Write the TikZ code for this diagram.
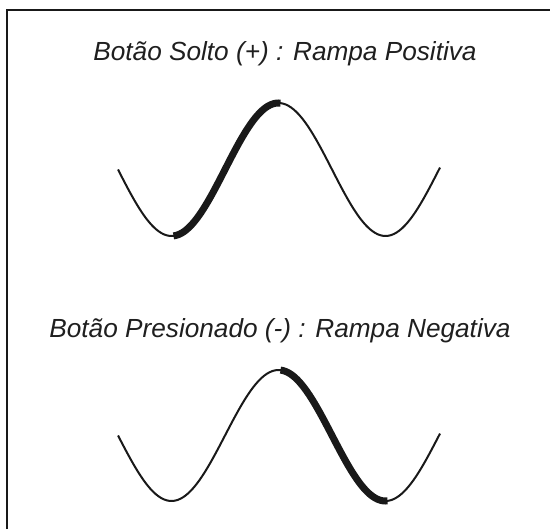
\documentclass[tikz,border=0pt]{standalone}
\usepackage{fontspec}
\setmainfont{Liberation Sans}
\usepackage{tikz}
\usetikzlibrary{positioning}
\tikzset{
  legenda/.style={font=\fontsize{13.1}{15}\selectfont\itshape,text=black!88,inner sep=0pt,anchor=center},
  onda/.style={line width=1pt,black!90,samples=120,smooth},
  rampa/.style={line width=3.5pt,black!90,samples=60,smooth,line cap=butt},
  moldura/.style={line width=1pt,black!90}
}

\begin{document}
\begin{tikzpicture}[x=0.5pt,y=0.5pt]
  \useasboundingbox (0,0) rectangle (550,529);
  % moldura aberta
  \draw[moldura] (6.5,0) |- (550,518.5);
  % rampa positiva
  \node[legenda] (pos) at (285,475) {Botão Solto (+) : Rampa Positiva};
  \draw[onda,domain=118:440] plot (\x,{359.5-66.5*sin(1.68224*(\x-118))});
  \draw[rampa,domain=173.5:280.5] plot (\x,{359.5-66.5*sin(1.68224*(\x-118))});
  % rampa negativa
  \node[legenda] (neg) at (280,198) {Botão Presionado (-) : Rampa Negativa};
  \draw[onda,domain=118:440] plot (\x,{93.5-65.5*sin(1.68224*(\x-118))});
  \draw[rampa,domain=280.5:387.5] plot (\x,{93.5-65.5*sin(1.68224*(\x-118))});
\end{tikzpicture}
\end{document}
